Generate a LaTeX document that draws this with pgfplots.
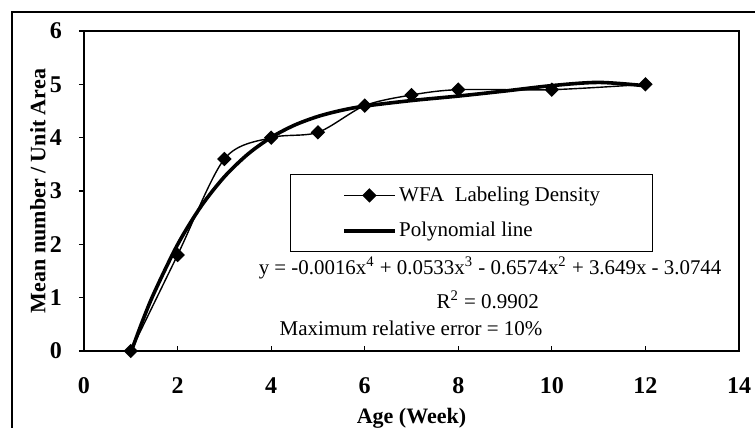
\documentclass[border=0pt]{standalone}
\usepackage{fontspec}
\setmainfont{Liberation Serif}
\usepackage{pgfplots}
\pgfplotsset{compat=1.18}
\usetikzlibrary{calc}

\begin{document}
\begin{tikzpicture}
\begin{axis}[
    scale only axis,
    width=327.5pt, height=160pt,
    xmin=0, xmax=14, ymin=0, ymax=6,
    xtick={0,2,...,14}, ytick={0,1,...,6},
    xticklabels={0,2,4,6,8,10,12,14},
    axis line style={line width=0.9pt},
    tick pos=left, tick align=outside,
    major tick length=2.5pt,
    xtick style={yshift=2.5pt},
    every tick/.style={black, line width=0.6pt},
    /pgf/number format/assume math mode=true,
    ticklabel style={font=\bfseries\fontsize{12}{14}\selectfont},
    yticklabel style={xshift=-5pt},
    xticklabel style={anchor=base, yshift=-19pt},
    xlabel={Age (Week)},
    ylabel={Mean number / Unit Area},
    label style={font=\bfseries\fontsize{11}{13}\selectfont},
    xlabel style={at={(axis description cs:0.5,0)}, anchor=center, yshift=-33.5pt},
    ylabel style={at={(axis description cs:0,0.5)}, anchor=center, yshift=23pt},
    legend style={at={(0.3145,0.553)}, anchor=north west, draw=black,
        line width=0.6pt, inner xsep=1pt, inner ysep=4pt, row sep=5pt,
        font=\fontsize{10.5}{12}\selectfont,
        nodes={inner xsep=1.5pt}},
    legend cell align=left,
    reverse legend,
    legend image code/.code={
        \path (-25pt,0pt);
        \draw[mark repeat=2,mark phase=2,#1] plot coordinates {(0pt,0pt) (12.5pt,0pt) (25pt,0pt)};
    },
]
% 4th-order polynomial trendline, values read at the printed equation
\addplot[black, line width=1.8pt, smooth, no markers] coordinates {
    (1,-0.031) (1.25,0.560) (1.5,1.092) (2,1.995) (2.5,2.710) (3,3.266)
    (3.5,3.689) (4,4.005) (4.5,4.235) (5,4.398) (5.5,4.512) (6,4.592)
    (7,4.696) (8,4.780) (9,4.875) (10,4.976) (11,5.036) (12,4.973)
};
\addlegendentry{\makebox[124pt][l]{Polynomial line}}
% measured density
\addplot[black, line width=0.7pt, smooth, mark=square*, mark size=2.2pt,
    mark options={rotate=45, fill=black}] coordinates {
    (1,0) (2,1.8) (3,3.6) (4,4.0) (5,4.1) (6,4.6) (7,4.8) (8,4.9) (10,4.9) (12,5.0)
};
\addlegendentry{\makebox[124pt][l]{WFA\ \ Labeling Density}}

\node[font=\fontsize{10.45}{12}\selectfont] at (axis cs:8.68,1.56)
    {y = -0.0016x\textsuperscript{4} + 0.0533x\textsuperscript{3} - 0.6574x\textsuperscript{2} + 3.649x - 3.0744};
\node[font=\fontsize{10.5}{12}\selectfont] at (axis cs:8.63,0.96) {R\textsuperscript{2} = 0.9902};
\node[font=\fontsize{10.5}{12}\selectfont] at (axis cs:6.99,0.43) {Maximum relative error = 10\%};
\end{axis}
\draw[line width=0.9pt] ($(current axis.south west)+(-36pt,-60pt)$) |- ($(current axis.north east)+(30pt,9.5pt)$);
\pgfresetboundingbox
\path[use as bounding box] ($(current axis.south west)+(-42pt,-38.5pt)$) rectangle ($(current axis.north east)+(8pt,15.5pt)$);
\end{tikzpicture}
\end{document}
